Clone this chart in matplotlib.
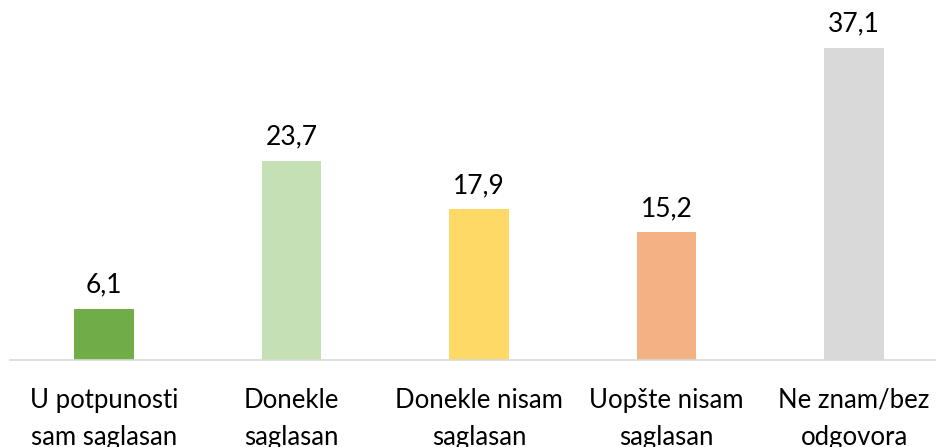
import matplotlib.pyplot as plt

categories = [
    "U potpunosti\nsam saglasan",
    "Donekle\nsaglasan",
    "Donekle nisam\nsaglasan",
    "Uopšte nisam\nsaglasan",
    "Ne znam/bez\nodgovora",
]
values = [6.1, 23.7, 17.9, 15.2, 37.1]
colors = ["#70AD47", "#C5E0B4", "#FFD966", "#F4B183", "#D9D9D9"]

plt.rcParams["font.family"] = ["Lato", "DejaVu Sans"]

fig = plt.figure(figsize=(9.36, 4.47), dpi=100)
ax = fig.add_axes([10.25 / 936, 0.1946, 937.5 / 936, 0.753])

x = range(len(values))
ax.bar(x, values, width=0.315, color=colors)
for xi, v in zip(x, values):
    ax.annotate(f"{v:.1f}".replace(".", ","), (xi, v), xytext=(0, 8),
                textcoords="offset points", ha="center", va="bottom",
                fontsize=19, color="#000000", annotation_clip=False)

ax.set_xlim(-0.5, 4.5)
ax.set_ylim(0, 40)
ax.set_xticks(list(x))
ax.set_xticklabels(categories, fontsize=18.5, linespacing=1.6)
ax.tick_params(axis="x", length=0, pad=20)
ax.set_yticks([])
for s in ["top", "right", "left"]:
    ax.spines[s].set_visible(False)
ax.spines["bottom"].set_color("#D9D9D9")
ax.spines["bottom"].set_linewidth(1.2)

fig.savefig("out.png", dpi=100)
